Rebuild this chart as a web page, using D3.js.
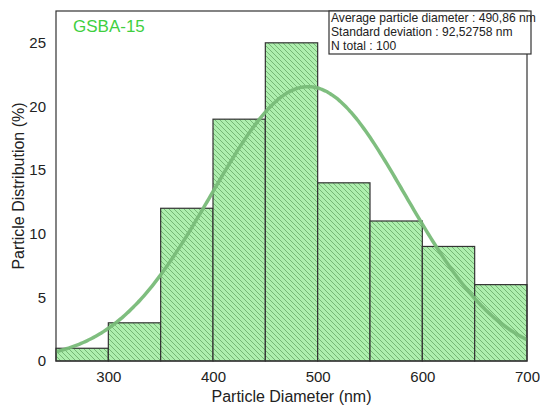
<!DOCTYPE html>
<html>
<head>
<meta charset="utf-8">
<script src="https://cdn.jsdelivr.net/npm/d3@7"></script>
<style>
  html, body { margin: 0; padding: 0; background: #fff; }
  svg { display: block; font-family: "Liberation Sans", Arial, sans-serif; }
</style>
</head>
<body>
<svg id="chart" width="540" height="408"></svg>
<script>
// Histogram bins (nm) and percentage of particles in each bin
const binStarts = [250, 300, 350, 400, 450, 500, 550, 600, 650];
const binWidth = 50;
const percents = [1, 3, 12, 19, 25, 14, 11, 9, 6];

const xTicks = [300, 400, 500, 600, 700];
const yTicks = [0, 5, 10, 15, 20, 25];

const sampleName = "GSBA-15";
const meanDiameter = 490.86;
const stdDeviation = 92.52758;
const nTotal = 100;
const statLines = [
  "Average particle diameter : 490,86 nm",
  "Standard deviation : 92,52758 nm",
  "N total : 100"
];

const svg = d3.select("#chart");
const plot = { left: 56, right: 527, top: 11, bottom: 361 };

const x = d3.scaleLinear().domain([250, 700]).range([plot.left, plot.right]);
const y = d3.scaleLinear().domain([0, 27.5]).range([plot.bottom, plot.top]);

// Diagonal hatch used to fill the bars
const defs = svg.append("defs");
const pat = defs.append("pattern")
  .attr("id", "hatch")
  .attr("patternUnits", "userSpaceOnUse")
  .attr("width", 5).attr("height", 5);
pat.append("rect").attr("width", 5).attr("height", 5).attr("fill", "#aeefae");
pat.append("path")
  .attr("d", "M-1,-1 L6,6 M-1,4 L1,6 M4,-1 L6,1")
  .attr("stroke", "#68a868").attr("stroke-width", 0.8);

// Bars
svg.append("g").selectAll("rect")
  .data(binStarts.map((s, i) => ({ s, v: percents[i] })))
  .join("rect")
  .attr("x", d => x(d.s))
  .attr("width", d => x(d.s + binWidth) - x(d.s))
  .attr("y", d => y(d.v))
  .attr("height", d => y(0) - y(d.v))
  .attr("fill", "url(#hatch)")
  .attr("stroke", "#333")
  .attr("stroke-width", 1.2);

// Normal fit from the stated mean and standard deviation, scaled to percent per bin
const scale = nTotal * binWidth / (stdDeviation * Math.sqrt(2 * Math.PI)) * (100 / nTotal);
const fitX = d3.range(250, 700.01, 2);
const fit = fitX.map(v => [v, scale * Math.exp(-0.5 * Math.pow((v - meanDiameter) / stdDeviation, 2))]);
svg.append("path")
  .datum(fit)
  .attr("fill", "none")
  .attr("stroke", "#78bb78")
  .attr("stroke-opacity", 0.95)
  .attr("stroke-width", 3.5)
  .attr("d", d3.line().x(d => x(d[0])).y(d => y(d[1])).curve(d3.curveBasis));

// Frame
svg.append("rect")
  .attr("x", plot.left).attr("y", plot.top)
  .attr("width", plot.right - plot.left).attr("height", plot.bottom - plot.top)
  .attr("fill", "none").attr("stroke", "#333").attr("stroke-width", 1.2);

// Axes (labels only, no tick marks)
const xAxis = svg.append("g")
  .attr("transform", `translate(0,${plot.bottom})`)
  .call(d3.axisBottom(x).tickValues(xTicks).tickSize(0).tickPadding(10).tickFormat(d3.format("d")));
xAxis.select(".domain").remove();
xAxis.selectAll("text").attr("font-size", 15).attr("fill", "#222").attr("font-family", "Liberation Sans, Arial, sans-serif");

const yAxis = svg.append("g")
  .attr("transform", `translate(${plot.left},0)`)
  .call(d3.axisLeft(y).tickValues(yTicks).tickSize(0).tickPadding(10).tickFormat(d3.format("d")));
yAxis.select(".domain").remove();
yAxis.selectAll("text").attr("font-size", 15).attr("fill", "#222").attr("font-family", "Liberation Sans, Arial, sans-serif");

// Axis titles
svg.append("text")
  .attr("x", (plot.left + plot.right) / 2).attr("y", 402)
  .attr("text-anchor", "middle").attr("font-size", 16).attr("fill", "#222")
  .text("Particle Diameter (nm)");
svg.append("text")
  .attr("transform", `translate(24,${(plot.top + plot.bottom) / 2}) rotate(-90)`)
  .attr("text-anchor", "middle").attr("font-size", 16).attr("fill", "#222")
  .text("Particle Distribution (%)");

// Sample name
svg.append("text")
  .attr("x", 73).attr("y", 32)
  .attr("font-size", 17).attr("fill", "#3fcf3f")
  .text(sampleName);

// Statistics box
svg.append("rect")
  .attr("x", 329).attr("y", 11).attr("width", 202).attr("height", 43)
  .attr("fill", "#fff").attr("stroke", "#333").attr("stroke-width", 1.2);
svg.append("g").selectAll("text")
  .data(statLines)
  .join("text")
  .attr("x", 331)
  .attr("y", (d, i) => 22 + i * 14)
  .attr("font-size", 12.1).attr("fill", "#222")
  .text(d => d);
</script>
</body>
</html>
